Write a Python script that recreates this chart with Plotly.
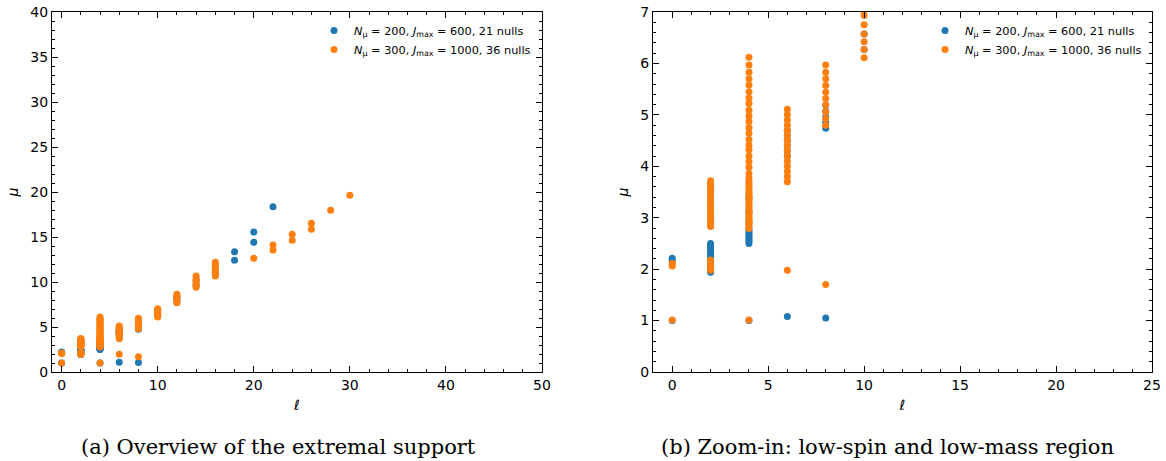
import plotly.graph_objects as go

# Extremal spectrum: spin ell vs mass mu for two truncations
BLUE = "#1f77b4"
ORANGE = "#ff7f0e"

label_200 = "<i>N</i><sub>μ</sub> = 200, <i>J</i><sub>max</sub> = 600, 21 nulls"
label_300 = "<i>N</i><sub>μ</sub> = 300, <i>J</i><sub>max</sub> = 1000, 36 nulls"

# N_mu = 200, J_max = 600
n200_spins = [0, 2, 4, 6, 8, 10, 12, 14, 16, 18, 20, 22]
n200_masses = [
    [1.00, 2.16, 2.21],
    [1.94, 1.98, 2.02, 2.06, 2.10, 2.14, 2.18, 2.22, 2.26, 2.30, 2.34, 2.38, 2.42, 2.46, 2.50],
    [1.00, 2.50, 2.54, 2.58, 2.62, 2.66, 2.70, 2.74, 2.78, 2.91, 3.11, 3.39],
    [1.08, 4.20, 4.30, 4.40, 4.50, 4.60, 4.70],
    [1.05, 4.74, 4.85, 4.96, 5.07, 5.19],
    [6.27, 6.57],
    [7.90, 8.30],
    [9.65, 10.15],
    [10.90, 11.65],
    [12.41, 13.37],
    [14.41, 15.56],
    [18.37],
]

# N_mu = 300, J_max = 1000
n300_spins = [0, 2, 4, 6, 8, 10, 12, 14, 16, 20, 22, 24, 26, 28, 30]
n300_masses = [
    [1.01, 2.06, 2.09, 2.11],
    [1.98, 2.01, 2.04, 2.07, 2.10, 2.13, 2.16, 2.18,
     2.83, 2.87, 2.91, 2.95, 2.99, 3.03, 3.07, 3.11, 3.15, 3.19, 3.23, 3.27,
     3.31, 3.35, 3.39, 3.43, 3.47, 3.51, 3.55, 3.59, 3.63, 3.67, 3.72],
    [1.01, 2.79, 2.83, 2.87, 2.91, 2.95, 2.99, 3.03, 3.07, 3.11, 3.15, 3.19,
     3.23, 3.27, 3.31, 3.35, 3.39, 3.43, 3.47, 3.51, 3.56, 3.61, 3.66, 3.71,
     3.77, 3.86, 3.98, 4.09, 4.20, 4.32, 4.41, 4.52, 4.64, 4.75, 4.87, 4.98,
     5.09, 5.22, 5.33, 5.45, 5.58, 5.70, 5.83, 5.97, 6.12],
    [1.98, 3.70, 3.80, 3.90, 4.00, 4.10, 4.20, 4.30, 4.40, 4.50, 4.60, 4.70,
     4.80, 4.90, 5.00, 5.11],
    [1.70, 4.80, 4.93, 5.06, 5.19, 5.32, 5.44, 5.57, 5.70, 5.83, 5.97],
    [6.11, 6.27, 6.42, 6.57, 6.75, 6.93, 7.02],
    [7.70, 7.90, 8.10, 8.30, 8.45, 8.63],
    [9.41, 9.65, 9.90, 10.15, 10.40, 10.67],
    [10.67, 10.90, 11.15, 11.40, 11.65, 11.90, 12.19],
    [12.63],
    [13.56, 14.11],
    [14.63, 15.30],
    [15.85, 16.52],
    [17.96],
    [19.63],
]


def expand(spins, masses):
    xs, ys = [], []
    for ell, mus in zip(spins, masses):
        for mu in mus:
            xs.append(ell)
            ys.append(mu)
    return xs, ys


x200, y200 = expand(n200_spins, n200_masses)
x300, y300 = expand(n300_spins, n300_masses)

W, H = 1166, 461
FONT = "DejaVu Sans"

fig = go.Figure()

for xa, ya, leg in [("x", "y", "legend"), ("x2", "y2", "legend2")]:
    fig.add_trace(go.Scatter(
        x=x200, y=y200, mode="markers", name=label_200,
        marker=dict(color=BLUE, size=7, line=dict(width=0)),
        xaxis=xa, yaxis=ya, legend=leg,
    ))
    fig.add_trace(go.Scatter(
        x=x300, y=y300, mode="markers", name=label_300,
        marker=dict(color=ORANGE, size=7, line=dict(width=0)),
        xaxis=xa, yaxis=ya, legend=leg,
    ))

y_dom = [1 - 372 / H, 1 - 12 / H]


def axis_style(rng, dtick, minor_dtick, domain, title, anchor, standoff):
    return dict(
        range=rng, domain=domain, anchor=anchor, automargin=False,
        showgrid=False, zeroline=False,
        showline=True, linecolor="black", linewidth=1.3, mirror="allticks",
        ticks="inside", ticklen=6, tickwidth=1.1, tickcolor="black",
        dtick=dtick, tick0=0,
        minor=dict(ticks="inside", ticklen=3, tickwidth=0.9, tickcolor="black",
                   dtick=minor_dtick, tick0=0, showgrid=False),
        tickfont=dict(family=FONT, size=14, color="black"),
        title=dict(text=title, font=dict(family=FONT, size=14, color="black"),
                   standoff=standoff),
    )


legend_common = dict(
    xanchor="left", yanchor="top", bgcolor="rgba(0,0,0,0)", borderwidth=0,
    font=dict(family=FONT, size=11.3, color="black"), tracegroupgap=0,
)

fig.update_layout(
    width=W, height=H,
    margin=dict(l=0, r=0, t=0, b=0),
    paper_bgcolor="white", plot_bgcolor="white",
    xaxis=axis_style([-1, 50], 10, 2, [52 / W, 542 / W], "<i>ℓ</i>", "y", 8),
    yaxis=axis_style([0, 40], 5, 1, y_dom, "<i>μ</i>", "x", 8),
    xaxis2=axis_style([-1, 25], 5, 1, [653 / W, 1152 / W], "<i>ℓ</i>", "y2", 8),
    yaxis2=axis_style([0, 7], 1, 0.2, y_dom, "<i>μ</i>", "x2", 8),
    legend=dict(x=314 / W, y=1 - 16 / H, **legend_common),
    legend2=dict(x=925 / W, y=1 - 16 / H, **legend_common),
)

captions = [
    ("(a) Overview of the extremal support", 278),
    ("(b) Zoom-in: low-spin and low-mass region", 887),
]
for text, cx in captions:
    fig.add_annotation(
        text=text, x=cx / W, y=1 - 447 / H, xref="paper", yref="paper",
        xanchor="center", yanchor="middle", showarrow=False,
        font=dict(family="DejaVu Serif", size=21, color="black"),
    )

fig.write_html("out.html")
